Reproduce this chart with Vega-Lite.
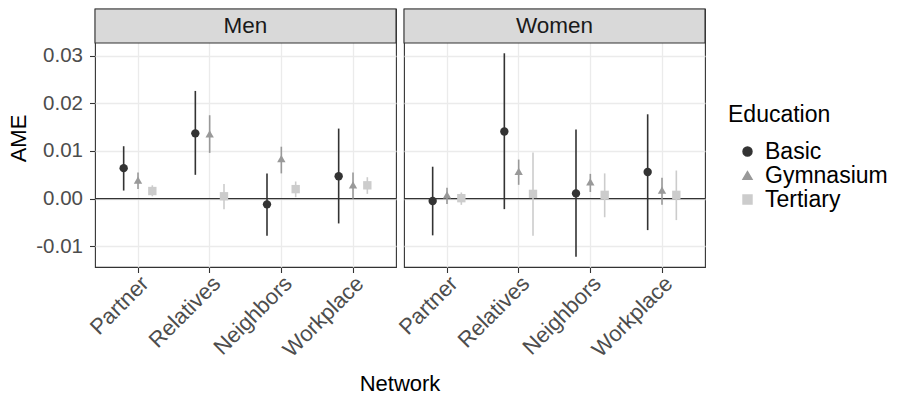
{
  "$schema": "https://vega.github.io/schema/vega-lite/v6.json",
  "padding": {"left": 7, "top": 7, "right": 5, "bottom": 0},
  "bounds": "flush",
  "config": {
    "font": "Liberation Sans",
    "view": {"stroke": "#333333", "strokeWidth": 1.1},
    "axis": {
      "labelColor": "#4D4D4D", "labelFontSize": 20.5, "titleColor": "#000000", "titleFontSize": 22,
      "titleFontWeight": "normal", "tickColor": "#333333", "tickSize": 5.5, "tickWidth": 1.1,
      "domain": false, "gridColor": "#EBEBEB"
    },
    "header": {"titleFont": "Liberation Sans", "titleFontSize": 22, "titleFontWeight": "normal", "titleColor": "#000000"},
    "legend": {"titleFont": "Liberation Sans", "labelFont": "Liberation Sans"}
  },
  "data": {"values": [
    {"Sex": "Men", "Network": "Partner", "Education": "Basic", "AME": 0.0064, "lo": 0.0017, "hi": 0.0110},
    {"Sex": "Men", "Network": "Partner", "Education": "Gymnasium", "AME": 0.0039, "lo": 0.0020, "hi": 0.0055},
    {"Sex": "Men", "Network": "Partner", "Education": "Tertiary", "AME": 0.0016, "lo": 0.0005, "hi": 0.0028},
    {"Sex": "Men", "Network": "Relatives", "Education": "Basic", "AME": 0.0137, "lo": 0.0050, "hi": 0.0226},
    {"Sex": "Men", "Network": "Relatives", "Education": "Gymnasium", "AME": 0.0136, "lo": 0.0096, "hi": 0.0175},
    {"Sex": "Men", "Network": "Relatives", "Education": "Tertiary", "AME": 0.0005, "lo": -0.0022, "hi": 0.0031},
    {"Sex": "Men", "Network": "Neighbors", "Education": "Basic", "AME": -0.0012, "lo": -0.0078, "hi": 0.0053},
    {"Sex": "Men", "Network": "Neighbors", "Education": "Gymnasium", "AME": 0.0084, "lo": 0.0053, "hi": 0.0109},
    {"Sex": "Men", "Network": "Neighbors", "Education": "Tertiary", "AME": 0.0020, "lo": 0.0003, "hi": 0.0036},
    {"Sex": "Men", "Network": "Workplace", "Education": "Basic", "AME": 0.0047, "lo": -0.0052, "hi": 0.0147},
    {"Sex": "Men", "Network": "Workplace", "Education": "Gymnasium", "AME": 0.0029, "lo": 0.0000, "hi": 0.0055},
    {"Sex": "Men", "Network": "Workplace", "Education": "Tertiary", "AME": 0.0028, "lo": 0.0010, "hi": 0.0045},
    {"Sex": "Women", "Network": "Partner", "Education": "Basic", "AME": -0.0005, "lo": -0.0077, "hi": 0.0067},
    {"Sex": "Women", "Network": "Partner", "Education": "Gymnasium", "AME": 0.0008, "lo": -0.0011, "hi": 0.0023},
    {"Sex": "Women", "Network": "Partner", "Education": "Tertiary", "AME": 0.0001, "lo": -0.0013, "hi": 0.0013},
    {"Sex": "Women", "Network": "Relatives", "Education": "Basic", "AME": 0.0141, "lo": -0.0022, "hi": 0.0305},
    {"Sex": "Women", "Network": "Relatives", "Education": "Gymnasium", "AME": 0.0057, "lo": 0.0029, "hi": 0.0082},
    {"Sex": "Women", "Network": "Relatives", "Education": "Tertiary", "AME": 0.0010, "lo": -0.0078, "hi": 0.0097},
    {"Sex": "Women", "Network": "Neighbors", "Education": "Basic", "AME": 0.0011, "lo": -0.0122, "hi": 0.0145},
    {"Sex": "Women", "Network": "Neighbors", "Education": "Gymnasium", "AME": 0.0035, "lo": 0.0014, "hi": 0.0052},
    {"Sex": "Women", "Network": "Neighbors", "Education": "Tertiary", "AME": 0.0008, "lo": -0.0039, "hi": 0.0053},
    {"Sex": "Women", "Network": "Workplace", "Education": "Basic", "AME": 0.0056, "lo": -0.0066, "hi": 0.0177},
    {"Sex": "Women", "Network": "Workplace", "Education": "Gymnasium", "AME": 0.0018, "lo": -0.0013, "hi": 0.0044},
    {"Sex": "Women", "Network": "Workplace", "Education": "Tertiary", "AME": 0.0008, "lo": -0.0045, "hi": 0.0059}
  ]},
  "facet": {"column": {"field": "Sex", "type": "nominal", "sort": ["Men", "Women"], "title": "Network",
    "header": {"labels": false, "titleOrient": "bottom", "titlePadding": 3}}},
  "spacing": 8,
  "resolve": {"scale": {"x": "shared", "y": "shared"}},
  "spec": {
    "width": 301,
    "height": 258,
    "encoding": {
      "x": {"field": "Network", "type": "nominal", "sort": ["Partner", "Relatives", "Neighbors", "Workplace"],
        "scale": {"paddingInner": 0, "paddingOuter": 0.1},
        "axis": {"title": null, "labelAngle": -45, "labelFontSize": 22, "grid": true, "bandPosition": 0.5, "gridWidth": 1.3, "labelPadding": 0}},
      "xOffset": {"field": "Education", "type": "nominal", "sort": ["Basic", "Gymnasium", "Tertiary"],
        "scale": {"paddingInner": 0, "paddingOuter": 1.486}}
    },
    "layer": [
      {
        "transform": [{"filter": "datum.Network == 'Partner' && datum.Education == 'Basic'"}],
        "mark": {"type": "rect", "fill": "#D9D9D9", "stroke": "#333333", "strokeWidth": 1.1},
        "encoding": {
          "x": null, "xOffset": null,
          "y": {"datum": 0.03979, "type": "quantitative",
            "scale": {"domain": [-0.01434, 0.03979], "nice": false, "zero": false},
            "axis": {"title": "AME", "grid": true, "values": [-0.01, -0.005, 0, 0.005, 0.01, 0.015, 0.02, 0.025, 0.03],
              "labelExpr": "round(datum.value*1000) % 10 != 0 ? '' : replace(format(datum.value, '.2f'), '\u2212', '-')",
              "gridWidth": {"condition": {"test": "round(datum.value*1000) % 10 != 0", "value": 0.6}, "value": 1.3},
              "tickOpacity": {"condition": {"test": "round(datum.value*1000) % 10 != 0", "value": 0}, "value": 1},
              "labelPadding": 7, "titlePadding": 5}},
          "y2": {"datum": 0.03266}
        }
      },
      {
        "transform": [{"filter": "datum.Network == 'Partner' && datum.Education == 'Basic'"}],
        "mark": {"type": "text", "fontSize": 22.5, "color": "#1A1A1A", "baseline": "middle"},
        "encoding": {
          "x": null, "xOffset": null,
          "text": {"field": "Sex"},
          "y": {"datum": 0.03622, "type": "quantitative"}
        }
      },
      {
        "transform": [{"filter": "datum.Network == 'Partner' && datum.Education == 'Basic'"}],
        "mark": {"type": "rule", "color": "#333333", "strokeWidth": 1.3},
        "encoding": {"x": null, "xOffset": null, "y": {"datum": 0, "type": "quantitative"}}
      },
      {
        "mark": {"type": "rule", "strokeWidth": 1.6},
        "encoding": {
          "y": {"field": "lo", "type": "quantitative"},
          "y2": {"field": "hi"},
          "color": {"field": "Education", "type": "nominal", "title": "Education",
            "scale": {"domain": ["Basic", "Gymnasium", "Tertiary"], "range": ["#333333", "#999999", "#CCCCCC"]}}
        }
      },
      {
        "mark": {"type": "point", "filled": true, "opacity": 1, "size": 70},
        "encoding": {
          "y": {"field": "AME", "type": "quantitative"},
          "color": {"field": "Education", "type": "nominal", "title": "Education",
            "legend": {"orient": "none", "legendX": 633, "legendY": 95, "padding": 0,
              "titleFontSize": 23, "titleFontWeight": "normal", "titleColor": "#000000", "titlePadding": 13,
              "labelFontSize": 23, "labelColor": "#000000", "symbolSize": 80, "symbolOffset": 8,
              "labelOffset": 6, "rowPadding": 0, "labelLimit": 200}},
          "shape": {"field": "Education", "type": "nominal", "title": "Education",
            "scale": {"domain": ["Basic", "Gymnasium", "Tertiary"], "range": ["circle", "triangle-up", "square"]}}
        }
      }
    ]
  }
}
